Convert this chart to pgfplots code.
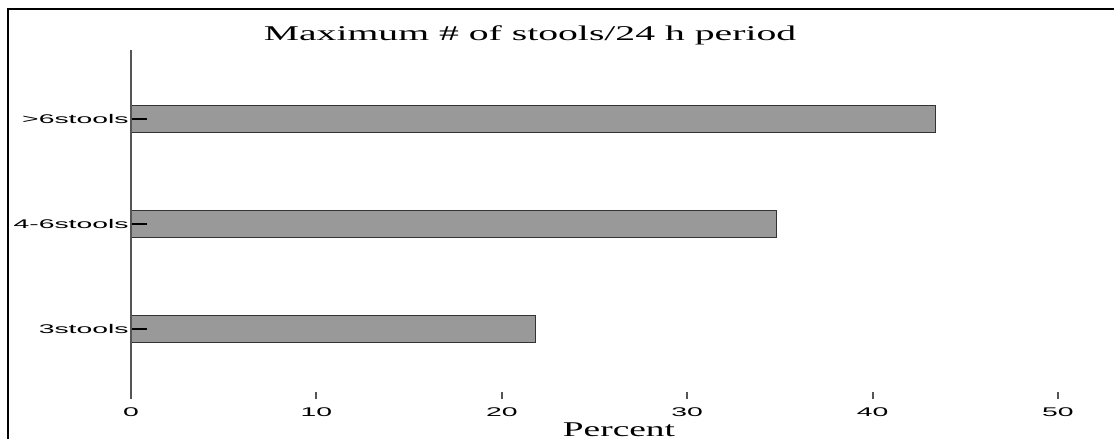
\documentclass[border=0pt]{standalone}
\usepackage{fontspec}
\setmainfont{Liberation Serif}
\newfontfamily\tickfont{Liberation Sans}
\usepackage{graphicx}
\usepackage{pgfplots}
\pgfplotsset{compat=1.18}
\definecolor{barfill}{RGB}{153,153,153}
\definecolor{baredge}{RGB}{51,51,51}
\definecolor{axisgray}{RGB}{85,85,85}
\newcommand{\wl}[1]{\scalebox{2.25}[1]{#1}}
\begin{document}
\begin{tikzpicture}
\useasboundingbox (0pt,0pt) rectangle (557pt,-219.5pt);
\draw[line width=1pt] (4pt,-219.5pt) -- (4pt,-4.5pt) -- (557pt,-4.5pt);
\begin{axis}[
  at={(65.5pt,-196pt)}, anchor=south west,
  scale only axis, width=463.5pt, height=171pt,
  xmin=0, xmax=50, ymin=-0.6, ymax=2.657,
  xbar, bar width=0.26,
  axis x line*=bottom, axis y line*=left,
  x axis line style={draw=none},
  y axis line style={draw=axisgray, line width=1pt},
  axis on top,
  xtick={0,10,20,30,40,50},
  xticklabels={\wl{0},\wl{10},\wl{20},\wl{30},\wl{40},\wl{50}},
  ytick={0,1,2},
  yticklabels={\wl{3stools},\wl{4-6stools},\wl{>6stools}},
  xtick align=outside, ytick align=inside,
  x tick style={draw=axisgray, line width=1pt, /pgfplots/major tick length=3.5pt},
  y tick style={draw=black, line width=0.6pt, /pgfplots/major tick length=8pt},
  tick label style={font=\tickfont\fontsize{6.3}{7}\selectfont},
  yticklabel style={inner sep=1pt},
  clip=false,
]
\addplot[fill=barfill, draw=baredge, line width=0.6pt] coordinates {(21.8,0) (34.8,1) (43.4,2)};
\end{axis}
\node[font=\fontsize{10.5}{12}\selectfont] at (265pt,-17.5pt) {\scalebox{1.89}[1]{Maximum \# of stools/24 h period}};
\node[font=\fontsize{10.5}{12}\selectfont] at (309.5pt,-215pt) {\scalebox{1.78}[1]{Percent}};
\end{tikzpicture}
\end{document}
